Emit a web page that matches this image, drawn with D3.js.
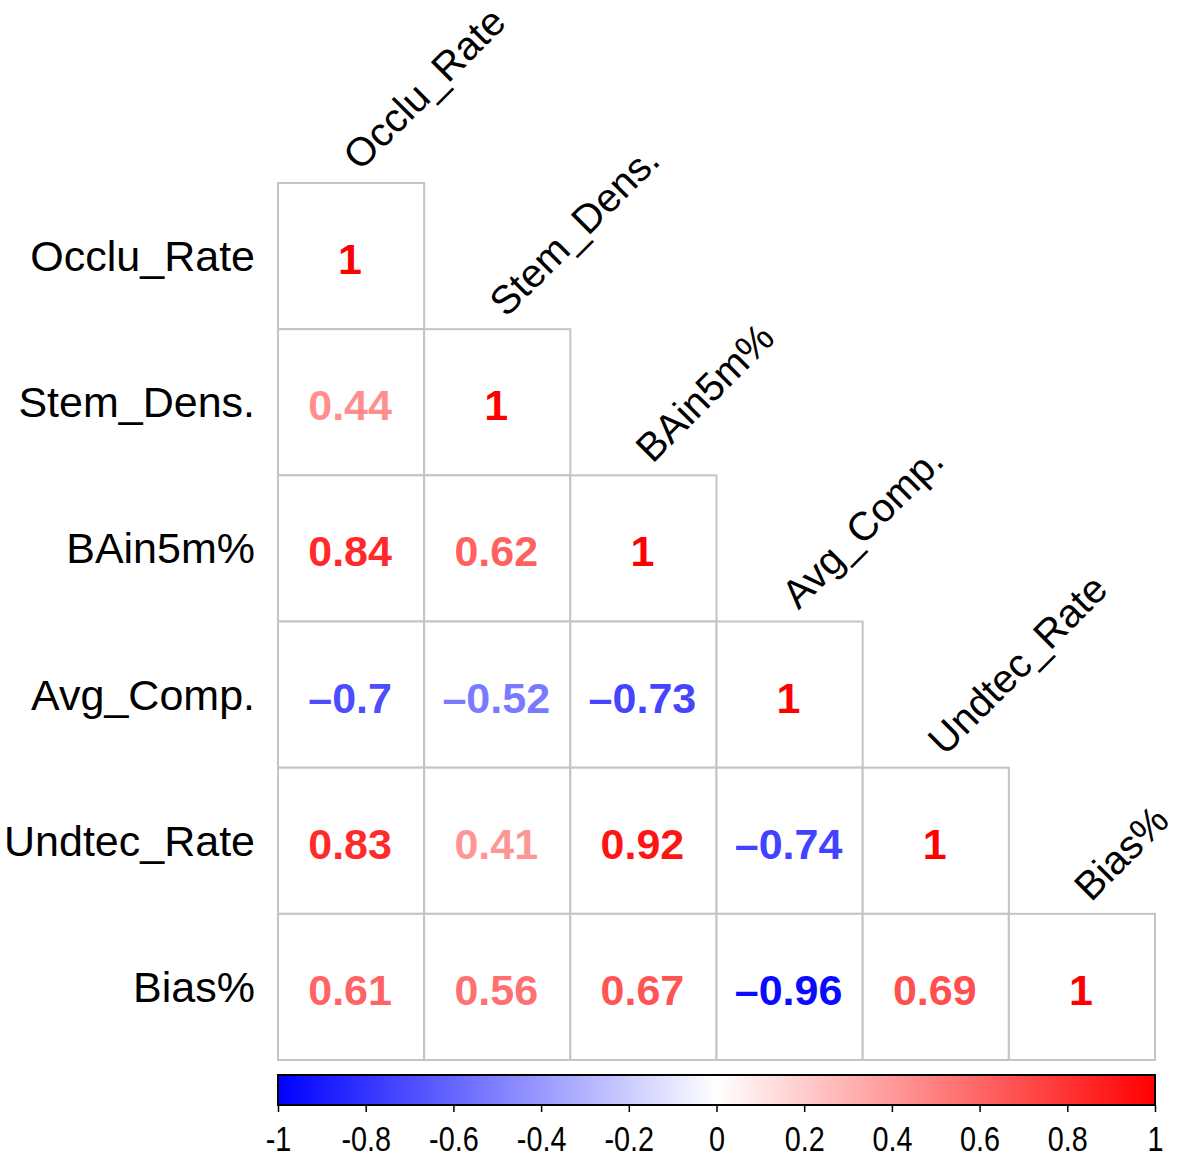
<!DOCTYPE html>
<html><head><meta charset="utf-8">
<script src="https://cdn.jsdelivr.net/npm/d3@7"></script>
<style>body{margin:0;background:#fff}svg{display:block}</style>
</head><body>
<svg id="c" width="1181" height="1157"></svg>
<script>
const variables = ["Occlu_Rate","Stem_Dens.","BAin5m%","Avg_Comp.","Undtec_Rate","Bias%"];
const row0 = [1];
const row1 = [0.44, 1];
const row2 = [0.84, 0.62, 1];
const row3 = [-0.7, -0.52, -0.73, 1];
const row4 = [0.83, 0.41, 0.92, -0.74, 1];
const row5 = [0.61, 0.56, 0.67, -0.96, 0.69, 1];
const rows = [row0,row1,row2,row3,row4,row5];
const colorTicks = [-1,-0.8,-0.6,-0.4,-0.2,0,0.2,0.4,0.6,0.8,1];

const svg = d3.select("#c");
const x0 = 278, x1 = 1155, y0 = 183, y1 = 1060;
const x = d3.scaleBand().domain(variables).range([x0,x1]);
const y = d3.scaleBand().domain(variables).range([y0,y1]);
const color = d3.scaleLinear().domain([-1,0,1]).range(["#0000ff","#ffffff","#ff0000"]).interpolate(d3.interpolateRgb);

const cells = [];
rows.forEach((r,i)=>r.forEach((v,j)=>cells.push({r:variables[i],c:variables[j],v})));

const fmt = v => (v<0 ? "\u2013" : "") + String(Math.abs(v));

svg.append("g").selectAll("rect").data(cells).join("rect")
  .attr("x",d=>x(d.c)).attr("y",d=>y(d.r))
  .attr("width",x.bandwidth()).attr("height",y.bandwidth())
  .attr("fill","#fff").attr("stroke","#c4c4c4").attr("stroke-width",2);

svg.append("g").selectAll("text").data(cells).join("text")
  .attr("x",d=>x(d.c)+x.bandwidth()/2-1).attr("y",d=>y(d.r)+y.bandwidth()/2+3)
  .attr("text-anchor","middle").attr("dominant-baseline","central")
  .attr("font-family","Liberation Sans, Arial, sans-serif").attr("font-weight","bold")
  .attr("font-size",43).attr("fill",d=>color(d.v)).text(d=>fmt(d.v));

// row labels
svg.append("g").selectAll("text").data(variables).join("text")
  .attr("x",255).attr("y",d=>y(d)+y.bandwidth()/2)
  .attr("text-anchor","end").attr("dominant-baseline","central")
  .attr("font-family","Liberation Sans, Arial, sans-serif").attr("font-size",43)
  .attr("fill","#000").text(d=>d);

// column labels
svg.append("g").selectAll("text").data(variables).join("text")
  .attr("transform",d=>`translate(${x(d)+x.bandwidth()/2+9},${y(d)-11}) rotate(-45)`)
  .attr("text-anchor","start")
  .attr("font-family","Liberation Sans, Arial, sans-serif").attr("font-size",40)
  .attr("fill","#000").text(d=>d);

// colorbar
const cb = d3.scaleLinear().domain([-1,1]).range([x0,x1]);
const defs = svg.append("defs");
const grad = defs.append("linearGradient").attr("id","g").attr("x1","0%").attr("x2","100%");
colorTicks.forEach(t=>grad.append("stop").attr("offset",((t+1)/2*100)+"%").attr("stop-color",color(t)));
svg.append("rect").attr("x",x0).attr("y",1075).attr("width",x1-x0).attr("height",30)
  .attr("fill","url(#g)").attr("stroke","#000").attr("stroke-width",2);
const ax = svg.append("g").attr("transform","translate(0,1105)")
  .call(d3.axisBottom(cb).tickValues(colorTicks).tickSize(7).tickPadding(13)
    .tickFormat(t=>(t<0?"-":"")+String(Math.abs(t))));
ax.select(".domain").remove();
ax.selectAll("line").attr("stroke","#000").attr("stroke-width",1.5);
ax.selectAll("text").attr("font-family","Liberation Sans, Arial, sans-serif")
  .attr("font-size",36).attr("fill","#000").attr("transform","scale(0.8,1)");
</script>
</body></html>
